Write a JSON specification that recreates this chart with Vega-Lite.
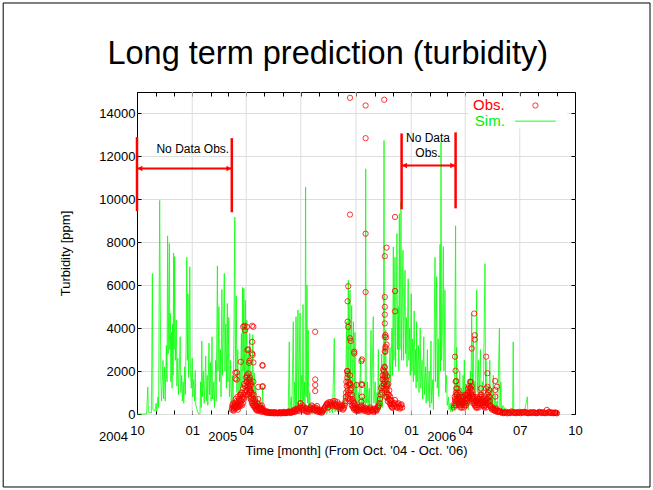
{
"$schema": "https://vega.github.io/schema/vega-lite/v6.json",
"width": 438, "height": 322,
"autosize": "none",
"padding": {"left": 137, "top": 92, "right": 78, "bottom": 76},
"background": "white",
"config": {"view": {"stroke": "black", "strokeWidth": 1}, "font": "Liberation Sans"},
"datasets": {
"one": [{"k": 1}],
"heading": [{"label": "Long term prediction (turbidity)"}],
"quarters": [{"day":92},{"day":182},{"day":273},{"day":365},{"day":457},{"day":547},{"day":638}],
"sim": [
{"day":0,"ppm":0},{"day":10,"ppm":0},{"day":16,"ppm":0},{"day":18,"ppm":1250},{"day":19,"ppm":80},{"day":24,"ppm":50},{"day":25.6,"ppm":6550},{"day":26.6,"ppm":200},{"day":30,"ppm":150},{"day":32,"ppm":500},{"day":33,"ppm":100},{"day":35,"ppm":800},{"day":36,"ppm":300},{"day":37.8,"ppm":9950},{"day":38.8,"ppm":5300},{"day":39.8,"ppm":1500},{"day":41,"ppm":600},{"day":43.3,"ppm":2500},{"day":44.3,"ppm":700},{"day":46,"ppm":2200},{"day":47,"ppm":600},{"day":49,"ppm":3200},{"day":50,"ppm":1500},{"day":51,"ppm":8300},{"day":52,"ppm":2800},{"day":53.9,"ppm":7950},{"day":54.7,"ppm":3000},{"day":55.5,"ppm":4700},{"day":56.5,"ppm":1500},{"day":57.5,"ppm":3800},{"day":58.5,"ppm":1200},{"day":59.5,"ppm":4200},{"day":60.2,"ppm":1800},{"day":61,"ppm":7500},{"day":61.8,"ppm":3000},{"day":62.8,"ppm":7330},{"day":63.8,"ppm":2500},{"day":65.5,"ppm":4370},{"day":66.5,"ppm":1300},{"day":68,"ppm":2600},{"day":69,"ppm":900},{"day":70.5,"ppm":2000},{"day":72,"ppm":3600},{"day":73,"ppm":1000},{"day":74.5,"ppm":1800},{"day":75.5,"ppm":600},{"day":77,"ppm":1500},{"day":78,"ppm":500},{"day":79.5,"ppm":2200},{"day":80.5,"ppm":900},{"day":82,"ppm":3500},{"day":83,"ppm":7300},{"day":84,"ppm":2500},{"day":85,"ppm":5600},{"day":86,"ppm":1700},{"day":87,"ppm":3000},{"day":88,"ppm":6860},{"day":89,"ppm":2000},{"day":90.5,"ppm":1200},{"day":92,"ppm":2600},{"day":93,"ppm":800},{"day":94.5,"ppm":1600},{"day":96,"ppm":600},{"day":97,"ppm":2030},{"day":98,"ppm":400},{"day":100,"ppm":200},{"day":101,"ppm":100},{"day":103,"ppm":0},{"day":105,"ppm":0},{"day":106,"ppm":1500},{"day":107,"ppm":300},{"day":108,"ppm":3400},{"day":109,"ppm":800},{"day":110.5,"ppm":2000},{"day":112,"ppm":500},{"day":114.5,"ppm":2700},{"day":115.5,"ppm":600},{"day":117,"ppm":1800},{"day":118,"ppm":400},{"day":120,"ppm":3300},{"day":121,"ppm":900},{"day":122.5,"ppm":2400},{"day":123.5,"ppm":600},{"day":125,"ppm":3600},{"day":126,"ppm":700},{"day":128,"ppm":1500},{"day":129,"ppm":300},{"day":131,"ppm":2500},{"day":132,"ppm":600},{"day":134,"ppm":6900},{"day":135,"ppm":2000},{"day":136.5,"ppm":5000},{"day":137.5,"ppm":1500},{"day":139,"ppm":3000},{"day":140,"ppm":800},{"day":141.5,"ppm":5800},{"day":142.5,"ppm":1800},{"day":144,"ppm":3800},{"day":145.5,"ppm":6550},{"day":146.5,"ppm":2000},{"day":148,"ppm":4200},{"day":149,"ppm":1200},{"day":150.5,"ppm":5150},{"day":151.5,"ppm":1500},{"day":153,"ppm":4500},{"day":154,"ppm":800},{"day":156,"ppm":2500},{"day":157,"ppm":500},{"day":159,"ppm":1800},{"day":160,"ppm":300},{"day":161.5,"ppm":3500},{"day":163,"ppm":9170},{"day":164,"ppm":2000},{"day":165.5,"ppm":5500},{"day":166.5,"ppm":1000},{"day":168,"ppm":3000},{"day":169,"ppm":400},{"day":171,"ppm":2000},{"day":172,"ppm":800},{"day":174,"ppm":3750},{"day":175,"ppm":1200},{"day":176,"ppm":5900},{"day":177,"ppm":2000},{"day":178,"ppm":5850},{"day":179,"ppm":1500},{"day":180.5,"ppm":5300},{"day":181.5,"ppm":1800},{"day":183,"ppm":4370},{"day":184,"ppm":1000},{"day":185.5,"ppm":3000},{"day":186.5,"ppm":600},{"day":188,"ppm":3750},{"day":189,"ppm":800},{"day":190.5,"ppm":2000},{"day":191.5,"ppm":400},{"day":193,"ppm":3700},{"day":194,"ppm":600},{"day":195.5,"ppm":1900},{"day":196.5,"ppm":300},{"day":198,"ppm":1200},{"day":199,"ppm":200},{"day":201,"ppm":800},{"day":202,"ppm":100},{"day":204,"ppm":600},{"day":205,"ppm":100},{"day":207,"ppm":400},{"day":208,"ppm":50},{"day":209.5,"ppm":1270},{"day":210.5,"ppm":50},{"day":213,"ppm":300},{"day":214,"ppm":20},{"day":217,"ppm":200},{"day":218,"ppm":10},{"day":222,"ppm":150},{"day":223,"ppm":0},{"day":228,"ppm":80},{"day":229,"ppm":0},{"day":235,"ppm":100},{"day":236,"ppm":0},{"day":242,"ppm":50},{"day":243,"ppm":0},{"day":250,"ppm":100},{"day":252,"ppm":0},{"day":253.8,"ppm":3360},{"day":254.8,"ppm":200},{"day":257,"ppm":800},{"day":258,"ppm":100},{"day":260.5,"ppm":4300},{"day":261.5,"ppm":300},{"day":263,"ppm":1500},{"day":264,"ppm":200},{"day":265,"ppm":4530},{"day":266,"ppm":400},{"day":268.3,"ppm":4840},{"day":269.3,"ppm":300},{"day":271.7,"ppm":4700},{"day":272.7,"ppm":500},{"day":274.5,"ppm":1800},{"day":275.5,"ppm":300},{"day":276.7,"ppm":5100},{"day":277.7,"ppm":600},{"day":279,"ppm":1500},{"day":280,"ppm":300},{"day":281,"ppm":10570},{"day":282,"ppm":800},{"day":283.3,"ppm":6000},{"day":284.3,"ppm":500},{"day":285.3,"ppm":3900},{"day":286.3,"ppm":300},{"day":288,"ppm":1000},{"day":289,"ppm":100},{"day":291,"ppm":400},{"day":292,"ppm":0},{"day":295,"ppm":200},{"day":296,"ppm":0},{"day":300,"ppm":150},{"day":301,"ppm":0},{"day":305,"ppm":100},{"day":306,"ppm":0},{"day":310,"ppm":200},{"day":311,"ppm":0},{"day":315,"ppm":150},{"day":316,"ppm":0},{"day":320,"ppm":300},{"day":321,"ppm":50},{"day":325,"ppm":200},{"day":326,"ppm":50},{"day":328.8,"ppm":3530},{"day":329.8,"ppm":100},{"day":333,"ppm":300},{"day":334,"ppm":100},{"day":338,"ppm":400},{"day":339,"ppm":100},{"day":342,"ppm":500},{"day":343,"ppm":200},{"day":345,"ppm":900},{"day":346,"ppm":300},{"day":347.5,"ppm":800},{"day":349.5,"ppm":4300},{"day":350.5,"ppm":600},{"day":352.2,"ppm":6230},{"day":353,"ppm":1500},{"day":355,"ppm":5770},{"day":356,"ppm":1200},{"day":357.8,"ppm":5050},{"day":358.8,"ppm":900},{"day":360.8,"ppm":4300},{"day":361.8,"ppm":600},{"day":363.3,"ppm":3800},{"day":364.3,"ppm":400},{"day":366,"ppm":1500},{"day":367,"ppm":200},{"day":369,"ppm":1000},{"day":370,"ppm":100},{"day":372.8,"ppm":2670},{"day":373.8,"ppm":200},{"day":376,"ppm":800},{"day":377,"ppm":100},{"day":379.5,"ppm":1500},{"day":380.3,"ppm":300},{"day":381.2,"ppm":11420},{"day":382.2,"ppm":500},{"day":384,"ppm":1500},{"day":385,"ppm":200},{"day":387,"ppm":1200},{"day":388,"ppm":100},{"day":390,"ppm":3900},{"day":391,"ppm":400},{"day":393.8,"ppm":4530},{"day":394.8,"ppm":500},{"day":397,"ppm":1500},{"day":398,"ppm":200},{"day":400,"ppm":1000},{"day":401,"ppm":100},{"day":402.2,"ppm":3000},{"day":403.2,"ppm":300},{"day":405,"ppm":1200},{"day":406,"ppm":200},{"day":407.8,"ppm":2800},{"day":408.8,"ppm":300},{"day":410.5,"ppm":1500},{"day":411.7,"ppm":12740},{"day":412.7,"ppm":800},{"day":414.5,"ppm":3900},{"day":415.5,"ppm":600},{"day":418,"ppm":2000},{"day":419,"ppm":800},{"day":421.7,"ppm":3100},{"day":422.7,"ppm":1500},{"day":425,"ppm":4000},{"day":426,"ppm":1800},{"day":427.2,"ppm":7780},{"day":428.2,"ppm":2500},{"day":430,"ppm":7300},{"day":431,"ppm":2200},{"day":433.3,"ppm":8410},{"day":434.3,"ppm":3000},{"day":435.5,"ppm":5000},{"day":436.3,"ppm":2000},{"day":437.2,"ppm":9330},{"day":438.2,"ppm":3000},{"day":440,"ppm":9880},{"day":441,"ppm":2500},{"day":443.3,"ppm":7630},{"day":444.3,"ppm":2500},{"day":446.7,"ppm":6700},{"day":447.7,"ppm":2800},{"day":449,"ppm":4500},{"day":450,"ppm":2200},{"day":452,"ppm":6300},{"day":453,"ppm":2500},{"day":454.5,"ppm":4000},{"day":455.5,"ppm":1800},{"day":457,"ppm":5600},{"day":458,"ppm":2000},{"day":459.5,"ppm":3500},{"day":460.5,"ppm":1500},{"day":462,"ppm":4800},{"day":463,"ppm":1800},{"day":464.5,"ppm":3000},{"day":465.2,"ppm":1200},{"day":466,"ppm":4300},{"day":467,"ppm":1500},{"day":469,"ppm":3200},{"day":470,"ppm":1000},{"day":472,"ppm":4000},{"day":473,"ppm":1200},{"day":475,"ppm":2500},{"day":476,"ppm":700},{"day":478,"ppm":3600},{"day":479,"ppm":900},{"day":481,"ppm":2200},{"day":482,"ppm":500},{"day":484,"ppm":3000},{"day":485,"ppm":600},{"day":487,"ppm":2000},{"day":488,"ppm":300},{"day":490,"ppm":3400},{"day":491,"ppm":500},{"day":493,"ppm":1600},{"day":494,"ppm":200},{"day":496.7,"ppm":7300},{"day":497.5,"ppm":1500},{"day":499.5,"ppm":6400},{"day":500.5,"ppm":1200},{"day":502,"ppm":3500},{"day":503,"ppm":800},{"day":505,"ppm":7900},{"day":505.8,"ppm":2000},{"day":506.7,"ppm":12660},{"day":507.7,"ppm":2500},{"day":509,"ppm":4000},{"day":510.5,"ppm":7800},{"day":511.5,"ppm":2000},{"day":513.3,"ppm":5770},{"day":514.3,"ppm":1000},{"day":516,"ppm":1800},{"day":517,"ppm":400},{"day":519,"ppm":800},{"day":520,"ppm":200},{"day":522,"ppm":500},{"day":523,"ppm":100},{"day":525,"ppm":400},{"day":526,"ppm":100},{"day":528,"ppm":600},{"day":529,"ppm":200},{"day":531,"ppm":8770},{"day":532,"ppm":500},{"day":532.8,"ppm":3100},{"day":533.8,"ppm":300},{"day":535,"ppm":1500},{"day":536,"ppm":300},{"day":538,"ppm":2000},{"day":539,"ppm":400},{"day":541,"ppm":1200},{"day":542,"ppm":300},{"day":543.5,"ppm":1800},{"day":544.5,"ppm":500},{"day":545.5,"ppm":2510},{"day":546.5,"ppm":400},{"day":548,"ppm":1400},{"day":549,"ppm":300},{"day":551,"ppm":1000},{"day":552,"ppm":200},{"day":553.5,"ppm":1600},{"day":554.5,"ppm":400},{"day":555.7,"ppm":2000},{"day":556.5,"ppm":600},{"day":557.8,"ppm":4700},{"day":558.8,"ppm":1200},{"day":560.5,"ppm":3600},{"day":561.5,"ppm":800},{"day":563,"ppm":1500},{"day":564,"ppm":600},{"day":566.2,"ppm":5770},{"day":567.2,"ppm":1000},{"day":569,"ppm":2500},{"day":570,"ppm":600},{"day":572.5,"ppm":3000},{"day":573.5,"ppm":700},{"day":576,"ppm":1500},{"day":577,"ppm":400},{"day":580,"ppm":7000},{"day":581,"ppm":800},{"day":581.7,"ppm":2500},{"day":582.7,"ppm":500},{"day":585.5,"ppm":1200},{"day":586.5,"ppm":300},{"day":588,"ppm":2500},{"day":589,"ppm":400},{"day":591,"ppm":1200},{"day":592,"ppm":200},{"day":594,"ppm":1800},{"day":595,"ppm":300},{"day":597,"ppm":900},{"day":598,"ppm":200},{"day":600,"ppm":600},{"day":601,"ppm":100},{"day":604,"ppm":3990},{"day":605,"ppm":300},{"day":606.5,"ppm":1500},{"day":607.5,"ppm":100},{"day":610,"ppm":400},{"day":611,"ppm":50},{"day":613,"ppm":300},{"day":614,"ppm":30},{"day":617,"ppm":200},{"day":618,"ppm":20},{"day":621,"ppm":150},{"day":622,"ppm":20},{"day":625,"ppm":100},{"day":626,"ppm":20},{"day":627,"ppm":3360},{"day":628,"ppm":50},{"day":632,"ppm":100},{"day":633,"ppm":10},{"day":638,"ppm":150},{"day":639,"ppm":10},{"day":644,"ppm":100},{"day":645,"ppm":10},{"day":650.5,"ppm":800},{"day":651.5,"ppm":30},{"day":657,"ppm":100},{"day":658,"ppm":0},{"day":663,"ppm":80},{"day":664,"ppm":0},{"day":670,"ppm":100},{"day":671,"ppm":0},{"day":677,"ppm":60},{"day":678,"ppm":0},{"day":685,"ppm":80},{"day":686,"ppm":0},{"day":692,"ppm":50},{"day":693,"ppm":0},{"day":700,"ppm":0}
],
"obs": [
{"day":158,"ppm":200},{"day":159,"ppm":420},{"day":160,"ppm":350},{"day":161,"ppm":150},{"day":162,"ppm":300},{"day":163,"ppm":500},{"day":164,"ppm":250},{"day":165,"ppm":400},{"day":166,"ppm":600},{"day":167,"ppm":300},{"day":168,"ppm":200},{"day":169,"ppm":450},{"day":170,"ppm":700},{"day":171,"ppm":350},{"day":172,"ppm":500},{"day":173,"ppm":900},{"day":174,"ppm":600},{"day":175,"ppm":400},{"day":176,"ppm":800},{"day":177,"ppm":1200},{"day":178,"ppm":700},{"day":179,"ppm":1000},{"day":180,"ppm":1300},{"day":181,"ppm":900},{"day":182,"ppm":1500},{"day":183,"ppm":1100},{"day":184,"ppm":1700},{"day":185,"ppm":1400},{"day":186,"ppm":1600},{"day":187,"ppm":1200},{"day":188,"ppm":1000},{"day":189,"ppm":1300},{"day":190,"ppm":800},{"day":191,"ppm":600},{"day":192,"ppm":900},{"day":193,"ppm":500},{"day":194,"ppm":700},{"day":195,"ppm":400},{"day":196,"ppm":300},{"day":197,"ppm":600},{"day":198,"ppm":250},{"day":199,"ppm":400},{"day":200,"ppm":200},{"day":201,"ppm":300},{"day":202,"ppm":700},{"day":203,"ppm":150},{"day":204,"ppm":250},{"day":205,"ppm":300},{"day":206,"ppm":150},{"day":207,"ppm":200},{"day":208,"ppm":400},{"day":210,"ppm":250},
{"day":158.5,"ppm":300},{"day":159.5,"ppm":250},{"day":160.5,"ppm":500},{"day":161.5,"ppm":200},{"day":162.5,"ppm":400},{"day":163.5,"ppm":350},{"day":164.5,"ppm":700},{"day":165.5,"ppm":300},{"day":166.5,"ppm":500},{"day":167.5,"ppm":800},{"day":168.5,"ppm":350},{"day":169.5,"ppm":600},{"day":170.5,"ppm":400},{"day":171.5,"ppm":900},{"day":172.5,"ppm":650},{"day":173.5,"ppm":450},{"day":174.5,"ppm":1000},{"day":175.5,"ppm":700},{"day":176.5,"ppm":500},{"day":177.5,"ppm":900},{"day":178.5,"ppm":1400},{"day":179.5,"ppm":800},{"day":180.5,"ppm":1100},{"day":181.5,"ppm":1700},{"day":182.5,"ppm":1250},{"day":183.5,"ppm":1500},{"day":184.5,"ppm":900},{"day":185.5,"ppm":1300},{"day":186.5,"ppm":1000},{"day":187.5,"ppm":1600},{"day":188.5,"ppm":1100},{"day":189.5,"ppm":700},{"day":190.5,"ppm":1000},{"day":191.5,"ppm":500},{"day":192.5,"ppm":700},{"day":193.5,"ppm":400},{"day":194.5,"ppm":900},{"day":195.5,"ppm":550},{"day":196.5,"ppm":350},{"day":197.5,"ppm":450},{"day":198.5,"ppm":200},{"day":199.5,"ppm":350},{"day":200.5,"ppm":150},{"day":201.5,"ppm":500},{"day":202.5,"ppm":300},{"day":203.5,"ppm":200},{"day":204.5,"ppm":400},{"day":205.5,"ppm":200},{"day":206.5,"ppm":300},{"day":207.5,"ppm":100},{"day":208.5,"ppm":250},{"day":209.5,"ppm":150},
{"day":164,"ppm":1920},{"day":164,"ppm":1650},{"day":166,"ppm":1600},{"day":166.5,"ppm":1940},{"day":173,"ppm":2430},{"day":177,"ppm":4060},{"day":179,"ppm":4110},{"day":180,"ppm":3900},{"day":183,"ppm":1800},{"day":183,"ppm":4060},{"day":184,"ppm":2980},{"day":185.5,"ppm":3010},{"day":185.5,"ppm":1880},{"day":187,"ppm":2380},{"day":187.5,"ppm":2480},{"day":188,"ppm":1700},{"day":188.5,"ppm":1500},{"day":189,"ppm":1100},{"day":190,"ppm":1400},{"day":192,"ppm":4110},{"day":192,"ppm":3360},{"day":192,"ppm":2820},{"day":192.5,"ppm":2750},{"day":194,"ppm":4060},{"day":194,"ppm":2400},{"day":194,"ppm":1500},{"day":202,"ppm":1260},{"day":209,"ppm":2280},{"day":209.5,"ppm":2250},{"day":209,"ppm":1260},{"day":209.5,"ppm":1300},
{"day":211,"ppm":150},{"day":213,"ppm":100},{"day":215,"ppm":80},{"day":217,"ppm":120},{"day":219,"ppm":60},{"day":221,"ppm":50},{"day":223,"ppm":90},{"day":225,"ppm":40},{"day":227,"ppm":60},{"day":229,"ppm":30},{"day":231,"ppm":80},{"day":233,"ppm":50},{"day":235,"ppm":40},{"day":237,"ppm":70},{"day":239,"ppm":30},{"day":241,"ppm":60},{"day":243,"ppm":40},{"day":245,"ppm":100},{"day":247,"ppm":60},{"day":249,"ppm":50},{"day":251,"ppm":80},{"day":253,"ppm":120},{"day":255,"ppm":60},{"day":257,"ppm":100},{"day":259,"ppm":80},{"day":261,"ppm":150},{"day":263,"ppm":100},{"day":265,"ppm":200},{"day":267,"ppm":150},{"day":269,"ppm":250},{"day":271,"ppm":300},{"day":273,"ppm":500},{"day":275,"ppm":200},{"day":277,"ppm":300},{"day":279,"ppm":150},{"day":281,"ppm":250},{"day":283,"ppm":100},{"day":285,"ppm":200},{"day":287,"ppm":150},{"day":289,"ppm":300},{"day":291,"ppm":400},{"day":293,"ppm":200},{"day":295,"ppm":300},{"day":297,"ppm":150},{"day":299,"ppm":250},{"day":301,"ppm":100},{"day":303,"ppm":200},{"day":305,"ppm":80},{"day":307,"ppm":150},{"day":309,"ppm":100},{"day":311,"ppm":200},{"day":313,"ppm":300},{"day":315,"ppm":400},{"day":317,"ppm":500},{"day":319,"ppm":300},{"day":321,"ppm":450},{"day":323,"ppm":550},{"day":325,"ppm":400},{"day":327,"ppm":600},{"day":329,"ppm":500},{"day":331,"ppm":350},{"day":333,"ppm":450},{"day":335,"ppm":300},{"day":337,"ppm":400},{"day":339,"ppm":250},{"day":341,"ppm":350},{"day":343,"ppm":200},{"day":345,"ppm":300},{"day":347,"ppm":500},
{"day":212,"ppm":90},{"day":214,"ppm":130},{"day":216,"ppm":50},{"day":218,"ppm":100},{"day":220,"ppm":80},{"day":222,"ppm":40},{"day":224,"ppm":70},{"day":226,"ppm":50},{"day":228,"ppm":90},{"day":230,"ppm":40},{"day":232,"ppm":60},{"day":234,"ppm":30},{"day":236,"ppm":50},{"day":238,"ppm":90},{"day":240,"ppm":40},{"day":242,"ppm":70},{"day":244,"ppm":50},{"day":246,"ppm":80},{"day":248,"ppm":40},{"day":250,"ppm":60},{"day":252,"ppm":100},{"day":254,"ppm":80},{"day":256,"ppm":50},{"day":258,"ppm":120},{"day":260,"ppm":90},{"day":262,"ppm":200},{"day":264,"ppm":130},{"day":266,"ppm":250},{"day":268,"ppm":200},{"day":270,"ppm":150},{"day":272,"ppm":350},{"day":274,"ppm":250},{"day":276,"ppm":400},{"day":278,"ppm":200},{"day":280,"ppm":300},{"day":282,"ppm":150},{"day":284,"ppm":250},{"day":286,"ppm":100},{"day":288,"ppm":200},{"day":290,"ppm":250},{"day":292,"ppm":350},{"day":294,"ppm":250},{"day":296,"ppm":200},{"day":298,"ppm":300},{"day":300,"ppm":180},{"day":302,"ppm":150},{"day":304,"ppm":120},{"day":306,"ppm":200},{"day":308,"ppm":60},{"day":310,"ppm":150},{"day":312,"ppm":250},{"day":314,"ppm":350},{"day":316,"ppm":450},{"day":318,"ppm":300},{"day":320,"ppm":550},{"day":322,"ppm":400},{"day":324,"ppm":500},{"day":326,"ppm":350},{"day":328,"ppm":450},{"day":330,"ppm":600},{"day":332,"ppm":400},{"day":334,"ppm":550},{"day":336,"ppm":350},{"day":338,"ppm":450},{"day":340,"ppm":300},{"day":342,"ppm":400},{"day":344,"ppm":250},{"day":346,"ppm":400},
{"day":297,"ppm":3830},{"day":297,"ppm":1610},{"day":297,"ppm":1350},{"day":297,"ppm":1070},{"day":272,"ppm":500},{"day":300,"ppm":370},{"day":318,"ppm":460},
{"day":348,"ppm":800},{"day":349,"ppm":1500},{"day":350,"ppm":2000},{"day":351,"ppm":1100},{"day":352,"ppm":720},{"day":353,"ppm":1350},{"day":354,"ppm":600},{"day":355,"ppm":1800},{"day":356,"ppm":900},{"day":357,"ppm":1200},{"day":358,"ppm":400},{"day":359,"ppm":700},{"day":360,"ppm":300},{"day":361,"ppm":500},{"day":362,"ppm":200},{"day":363,"ppm":400},{"day":365,"ppm":250},
{"day":347.5,"ppm":600},{"day":348.5,"ppm":1000},{"day":349.5,"ppm":1300},{"day":350.5,"ppm":1700},{"day":351.5,"ppm":900},{"day":352.5,"ppm":1500},{"day":353.5,"ppm":1000},{"day":354.5,"ppm":1400},{"day":355.5,"ppm":700},{"day":356.5,"ppm":1100},{"day":357.5,"ppm":600},{"day":358.5,"ppm":900},{"day":359.5,"ppm":400},{"day":360.5,"ppm":600},{"day":361.5,"ppm":300},{"day":362.5,"ppm":500},{"day":363.5,"ppm":250},{"day":364,"ppm":300},{"day":365.5,"ppm":150},
{"day":351,"ppm":5250},{"day":351,"ppm":4300},{"day":351,"ppm":1860},{"day":351,"ppm":2000},{"day":352,"ppm":5950},{"day":352,"ppm":4060},{"day":355,"ppm":14730},{"day":355,"ppm":9290},{"day":355,"ppm":3530},{"day":355,"ppm":1430},{"day":356,"ppm":1350},{"day":356,"ppm":3400},{"day":362,"ppm":2900},{"day":362,"ppm":2820},{"day":366,"ppm":1350},{"day":375,"ppm":2540},{"day":375,"ppm":1350},{"day":375,"ppm":810},{"day":374,"ppm":2460},{"day":374,"ppm":1400},{"day":374,"ppm":570},{"day":381,"ppm":14370},{"day":381,"ppm":12850},{"day":381,"ppm":8400},{"day":381,"ppm":5680},
{"day":366,"ppm":200},{"day":368,"ppm":150},{"day":370,"ppm":300},{"day":372,"ppm":200},{"day":374,"ppm":400},{"day":376,"ppm":250},{"day":378,"ppm":150},{"day":380,"ppm":300},{"day":382,"ppm":200},{"day":384,"ppm":100},{"day":386,"ppm":150},{"day":388,"ppm":250},{"day":390,"ppm":150},{"day":392,"ppm":200},{"day":394,"ppm":100},{"day":396,"ppm":150},{"day":398,"ppm":250},{"day":400,"ppm":200},{"day":402,"ppm":350},{"day":404,"ppm":500},
{"day":367,"ppm":250},{"day":369,"ppm":200},{"day":371,"ppm":150},{"day":373,"ppm":350},{"day":375,"ppm":300},{"day":377,"ppm":200},{"day":379,"ppm":250},{"day":381,"ppm":150},{"day":383,"ppm":250},{"day":385,"ppm":200},{"day":387,"ppm":100},{"day":389,"ppm":300},{"day":391,"ppm":200},{"day":393,"ppm":150},{"day":395,"ppm":250},{"day":397,"ppm":200},{"day":399,"ppm":150},{"day":401,"ppm":300},{"day":403,"ppm":400},{"day":405,"ppm":700},{"day":406,"ppm":900},{"day":407,"ppm":1200},
{"day":408,"ppm":1000},{"day":409,"ppm":1610},{"day":410,"ppm":2070},{"day":411,"ppm":1200},{"day":412,"ppm":2000},{"day":413,"ppm":1500},{"day":414,"ppm":1880},{"day":415,"ppm":800},{"day":416,"ppm":1150},{"day":417,"ppm":1750},{"day":418,"ppm":600},{"day":419,"ppm":1400},{"day":420,"ppm":900},{"day":421,"ppm":500},{"day":422,"ppm":810},{"day":423,"ppm":400},{"day":424,"ppm":650},{"day":425,"ppm":300},
{"day":408.5,"ppm":1300},{"day":409.5,"ppm":1800},{"day":410.5,"ppm":1600},{"day":411.5,"ppm":1400},{"day":412.5,"ppm":2200},{"day":413.5,"ppm":1800},{"day":414.5,"ppm":1300},{"day":415.5,"ppm":1600},{"day":416.5,"ppm":1000},{"day":417.5,"ppm":1300},{"day":418.5,"ppm":900},{"day":419.5,"ppm":700},{"day":420.5,"ppm":1100},{"day":421.5,"ppm":650},{"day":422.5,"ppm":500},{"day":423.5,"ppm":600},{"day":424.5,"ppm":350},{"day":425.5,"ppm":450},
{"day":412,"ppm":14640},{"day":413,"ppm":7350},{"day":413,"ppm":5450},{"day":413,"ppm":4990},{"day":413,"ppm":4630},{"day":413,"ppm":4220},{"day":413,"ppm":3600},{"day":413,"ppm":2920},{"day":413,"ppm":2170},{"day":413,"ppm":1710},{"day":413,"ppm":1110},{"day":415,"ppm":3570},{"day":416,"ppm":7750},{"day":416,"ppm":3230},{"day":414,"ppm":3680},{"day":414,"ppm":3130},{"day":414.5,"ppm":3050},{"day":414,"ppm":2900},{"day":417,"ppm":800},{"day":417,"ppm":1400},{"day":430,"ppm":9180},{"day":430,"ppm":5730},{"day":430,"ppm":4780},
{"day":426,"ppm":300},{"day":428,"ppm":500},{"day":430,"ppm":650},{"day":432,"ppm":400},{"day":434,"ppm":300},{"day":436,"ppm":500},{"day":438,"ppm":250},{"day":440,"ppm":400},{"day":442,"ppm":300},
{"day":427,"ppm":450},{"day":429,"ppm":350},{"day":431,"ppm":500},{"day":433,"ppm":300},{"day":435,"ppm":450},{"day":437,"ppm":350},{"day":439,"ppm":300},{"day":441,"ppm":450},
{"day":528,"ppm":300},{"day":529,"ppm":500},{"day":530,"ppm":700},{"day":531,"ppm":400},{"day":532,"ppm":900},{"day":533,"ppm":600},{"day":534,"ppm":1190},{"day":535,"ppm":500},{"day":536,"ppm":800},{"day":537,"ppm":400},{"day":538,"ppm":700},{"day":539,"ppm":300},{"day":540,"ppm":600},{"day":541,"ppm":500},{"day":542,"ppm":420},{"day":543,"ppm":800},{"day":544,"ppm":600},{"day":545,"ppm":300},{"day":546,"ppm":500},{"day":547,"ppm":700},{"day":548,"ppm":400},{"day":549,"ppm":900},{"day":550,"ppm":600},{"day":551,"ppm":730},{"day":552,"ppm":1190},{"day":553,"ppm":800},{"day":554,"ppm":1000},{"day":555,"ppm":1500},{"day":556,"ppm":1200},{"day":557,"ppm":900},{"day":558,"ppm":1100},{"day":559,"ppm":700},{"day":560,"ppm":600},{"day":561,"ppm":800},{"day":562,"ppm":500},{"day":563,"ppm":400},{"day":564,"ppm":600},{"day":565,"ppm":300},{"day":566,"ppm":500},{"day":567,"ppm":400},{"day":568,"ppm":700},{"day":569,"ppm":300},{"day":570,"ppm":500},{"day":571,"ppm":800},{"day":572,"ppm":600},{"day":573,"ppm":1190},{"day":574,"ppm":900},{"day":575,"ppm":570},{"day":576,"ppm":700},{"day":577,"ppm":400},{"day":578,"ppm":500},{"day":579,"ppm":300},{"day":580,"ppm":600},{"day":581,"ppm":400},{"day":582,"ppm":300},{"day":583,"ppm":700},{"day":584,"ppm":1270},{"day":585,"ppm":500},{"day":586,"ppm":810},{"day":587,"ppm":1120},{"day":588,"ppm":600},{"day":589,"ppm":400},{"day":590,"ppm":300},{"day":592,"ppm":200},{"day":594,"ppm":250},{"day":596,"ppm":150},{"day":598,"ppm":200},{"day":600,"ppm":100},{"day":602,"ppm":150},{"day":604,"ppm":100},{"day":606,"ppm":80},
{"day":528.5,"ppm":400},{"day":529.5,"ppm":800},{"day":530.5,"ppm":600},{"day":531.5,"ppm":1000},{"day":532.5,"ppm":700},{"day":533.5,"ppm":900},{"day":534.5,"ppm":700},{"day":535.5,"ppm":1000},{"day":536.5,"ppm":600},{"day":537.5,"ppm":500},{"day":538.5,"ppm":900},{"day":539.5,"ppm":400},{"day":540.5,"ppm":800},{"day":541.5,"ppm":300},{"day":542.5,"ppm":600},{"day":543.5,"ppm":500},{"day":544.5,"ppm":800},{"day":545.5,"ppm":400},{"day":546.5,"ppm":900},{"day":547.5,"ppm":600},{"day":548.5,"ppm":700},{"day":549.5,"ppm":500},{"day":550.5,"ppm":900},{"day":551.5,"ppm":1000},{"day":552.5,"ppm":900},{"day":553.5,"ppm":1300},{"day":554.5,"ppm":1200},{"day":555.5,"ppm":1000},{"day":556.5,"ppm":1500},{"day":557.5,"ppm":1300},{"day":558.5,"ppm":800},{"day":559.5,"ppm":900},{"day":560.5,"ppm":500},{"day":561.5,"ppm":700},{"day":562.5,"ppm":600},{"day":563.5,"ppm":800},{"day":564.5,"ppm":400},{"day":565.5,"ppm":600},{"day":566.5,"ppm":300},{"day":567.5,"ppm":600},{"day":568.5,"ppm":500},{"day":569.5,"ppm":400},{"day":570.5,"ppm":700},{"day":571.5,"ppm":500},{"day":572.5,"ppm":900},{"day":573.5,"ppm":700},{"day":574.5,"ppm":800},{"day":575.5,"ppm":500},{"day":576.5,"ppm":400},{"day":577.5,"ppm":600},{"day":578.5,"ppm":350},{"day":579.5,"ppm":500},{"day":580.5,"ppm":400},{"day":581.5,"ppm":600},{"day":582.5,"ppm":500},{"day":583.5,"ppm":900},{"day":584.5,"ppm":700},{"day":585.5,"ppm":1000},{"day":586.5,"ppm":600},{"day":587.5,"ppm":800},{"day":588.5,"ppm":400},{"day":589.5,"ppm":350},{"day":591,"ppm":250},{"day":593,"ppm":300},{"day":595,"ppm":200},{"day":597,"ppm":150},{"day":599,"ppm":250},{"day":601,"ppm":120},{"day":603,"ppm":100},{"day":605,"ppm":150},
{"day":530,"ppm":2670},{"day":531,"ppm":2020},{"day":531,"ppm":1510},{"day":532,"ppm":1540},{"day":532,"ppm":1190},{"day":556,"ppm":1190},{"day":558,"ppm":3050},{"day":558,"ppm":730},{"day":562,"ppm":4680},{"day":563,"ppm":3670},{"day":563,"ppm":3470},{"day":582,"ppm":2670},{"day":582,"ppm":1190},{"day":584,"ppm":1900},{"day":597,"ppm":1540},{"day":597,"ppm":1120},{"day":597,"ppm":810},{"day":600,"ppm":1270},
{"day":608,"ppm":60},{"day":611,"ppm":40},{"day":614,"ppm":80},{"day":617,"ppm":30},{"day":620,"ppm":60},{"day":623,"ppm":100},{"day":626,"ppm":50},{"day":629,"ppm":80},{"day":632,"ppm":40},{"day":635,"ppm":60},{"day":638,"ppm":100},{"day":641,"ppm":70},{"day":644,"ppm":50},{"day":647,"ppm":90},{"day":650,"ppm":60},{"day":653,"ppm":40},{"day":656,"ppm":80},{"day":659,"ppm":50},{"day":662,"ppm":70},{"day":665,"ppm":40},{"day":668,"ppm":60},{"day":671,"ppm":100},{"day":674,"ppm":50},{"day":677,"ppm":80},{"day":680,"ppm":40},{"day":683,"ppm":190},{"day":686,"ppm":60},{"day":689,"ppm":50},{"day":692,"ppm":70},{"day":695,"ppm":40},{"day":698,"ppm":60},{"day":700,"ppm":30},
{"day":609.5,"ppm":80},{"day":612.5,"ppm":50},{"day":615.5,"ppm":100},{"day":618.5,"ppm":60},{"day":621.5,"ppm":40},{"day":624.5,"ppm":120},{"day":627.5,"ppm":70},{"day":630.5,"ppm":50},{"day":633.5,"ppm":90},{"day":636.5,"ppm":60},{"day":639.5,"ppm":40},{"day":642.5,"ppm":80},{"day":645.5,"ppm":100},{"day":648.5,"ppm":60},{"day":651.5,"ppm":40},{"day":654.5,"ppm":70},{"day":657.5,"ppm":50},{"day":660.5,"ppm":90},{"day":663.5,"ppm":60},{"day":666.5,"ppm":40},{"day":669.5,"ppm":70},{"day":672.5,"ppm":80},{"day":675.5,"ppm":50},{"day":678.5,"ppm":60},{"day":681.5,"ppm":40},{"day":684.5,"ppm":70},{"day":687.5,"ppm":100},{"day":690.5,"ppm":50},{"day":693.5,"ppm":40},{"day":696.5,"ppm":70},{"day":699,"ppm":50}
],
"bars": [{"day":0,"lo":9450,"hi":12900},{"day":158,"lo":9400,"hi":12850},{"day":441,"lo":9540,"hi":13070},{"day":531,"lo":9580,"hi":13120}],
"arrows": [{"from":0,"to":158,"ppm":11440},{"from":441,"to":531,"ppm":11580}],
"heads": [{"day":5,"ppm":11440,"dir":"left"},{"day":153,"ppm":11440,"dir":"right"},{"day":446,"ppm":11580,"dir":"left"},{"day":526,"ppm":11580,"dir":"right"}],
"notes": [{"day":93,"ppm":12330,"label":"No Data Obs."},{"day":485,"ppm":12880,"label":"No Data"},{"day":485,"ppm":12180,"label":"Obs."}],
"years": [{"day":0,"label":"2004"},{"day":182,"label":"2005"},{"day":547,"label":"2006"}]
},
"layer": [
{"data": {"name": "one"},
 "mark": {"type": "rect", "filled": false, "color": "black", "strokeWidth": 1},
 "encoding": {
  "x": {"datum": -223, "type": "quantitative", "scale": {"domain": [0, 730], "nice": false, "zero": false}, "axis": null},
  "x2": {"datum": 855},
  "y": {"datum": 19146, "type": "quantitative", "scale": {"domain": [0, 15000], "nice": false}, "axis": null},
  "y2": {"datum": -3400}}},
{"data": {"name": "heading"},
 "mark": {"type": "text", "fontSize": 32.5, "font": "Liberation Sans", "color": "black", "align": "center", "baseline": "alphabetic"},
 "encoding": {
  "x": {"datum": 318, "type": "quantitative", "scale": {"domain": [0, 730], "nice": false, "zero": false}, "axis": null},
  "y": {"datum": 16303, "type": "quantitative", "scale": {"domain": [0, 15000], "nice": false}, "axis": null},
  "text": {"field": "label"}}},
{"data": {"name": "quarters"},
 "mark": {"type": "rule", "color": "#dddddd", "strokeWidth": 1},
 "encoding": {"x": {"field": "day", "type": "quantitative", "scale": {"domain": [0, 730], "nice": false, "zero": false}, "axis": null}}},
{"data": {"name": "sim"},
 "mark": {"type": "line", "color": "#00ff00", "strokeWidth": 0.9, "opacity": 0.85},
 "encoding": {
  "x": {"field": "day", "type": "quantitative", "scale": {"domain": [0, 730], "nice": false, "zero": false},
   "axis": {"orient": "bottom", "values": [0,31,61,92,123,151,182,212,243,273,304,335,365,396,426,457,488,516,547,577,608,638,669,700,730],
    "labelExpr": "indexof([0,365,730],datum.value)>=0?'10':indexof([92,457],datum.value)>=0?'01':indexof([182,547],datum.value)>=0?'04':indexof([273,638],datum.value)>=0?'07':''",
    "labelOverlap": false, "labelBound": false, "labelFlush": false, "tickSize": -4, "tickColor": "black", "labelPadding": 14, "labelFontSize": 13, "labelColor": "black", "labelFont": "Liberation Sans",
    "domain": false, "grid": false, "title": "Time [month] (From Oct. '04 - Oct. '06)", "titleFontSize": 13, "titleFontWeight": "normal", "titleColor": "black", "titleFont": "Liberation Sans", "titlePadding": 7}},
  "y": {"field": "ppm", "type": "quantitative", "scale": {"domain": [0, 15000], "nice": false},
   "axis": {"orient": "left", "values": [0,2000,4000,6000,8000,10000,12000,14000], "format": "d", "tickSize": -4, "tickColor": "black", "labelPadding": 6, "labelFontSize": 13, "labelColor": "black", "labelFont": "Liberation Sans",
    "domain": false, "grid": true, "gridColor": "#dddddd", "title": "Turbidity [ppm]", "titleFontSize": 13, "titleFontWeight": "normal", "titleColor": "black", "titleFont": "Liberation Sans", "titlePadding": 26}}}},
{"data": {"name": "obs"},
 "mark": {"type": "point", "shape": "circle", "filled": false, "size": 28, "strokeWidth": 1, "color": "#ff0000", "opacity": 0.8},
 "encoding": {
  "x": {"field": "day", "type": "quantitative", "scale": {"domain": [0, 730], "nice": false, "zero": false},
   "axis": {"orient": "top", "values": [0,31,61,92,123,151,182,212,243,273,304,335,365,396,426,457,488,516,547,577,608,638,669,700,730], "labels": false, "tickSize": -4, "tickColor": "black", "domain": false, "grid": false, "title": null}},
  "y": {"field": "ppm", "type": "quantitative", "scale": {"domain": [0, 15000], "nice": false},
   "axis": {"orient": "right", "values": [0,2000,4000,6000,8000,10000,12000,14000], "labels": false, "tickSize": -4, "tickColor": "black", "domain": false, "grid": false, "title": null}}}},
{"data": {"name": "bars"},
 "mark": {"type": "rule", "color": "#ff0000", "strokeWidth": 2.5},
 "encoding": {
  "x": {"field": "day", "type": "quantitative", "scale": {"domain": [0, 730], "nice": false, "zero": false}, "axis": null},
  "y": {"field": "lo", "type": "quantitative", "scale": {"domain": [0, 15000], "nice": false}, "axis": null},
  "y2": {"field": "hi"}}},
{"data": {"name": "arrows"},
 "mark": {"type": "rule", "color": "#ff0000", "strokeWidth": 2},
 "encoding": {
  "x": {"field": "from", "type": "quantitative", "scale": {"domain": [0, 730], "nice": false, "zero": false}, "axis": null},
  "x2": {"field": "to"},
  "y": {"field": "ppm", "type": "quantitative", "scale": {"domain": [0, 15000], "nice": false}, "axis": null}}},
{"data": {"name": "heads"},
 "mark": {"type": "point", "filled": true, "color": "#ff0000", "size": 30, "opacity": 1},
 "encoding": {
  "x": {"field": "day", "type": "quantitative", "scale": {"domain": [0, 730], "nice": false, "zero": false}, "axis": null},
  "y": {"field": "ppm", "type": "quantitative", "scale": {"domain": [0, 15000], "nice": false}, "axis": null},
  "shape": {"field": "dir", "type": "nominal", "scale": {"domain": ["left", "right"], "range": ["triangle-left", "triangle-right"]}, "legend": null}}},
{"data": {"name": "notes"},
 "mark": {"type": "text", "fontSize": 12, "font": "Liberation Sans", "color": "black", "align": "center", "baseline": "middle"},
 "encoding": {
  "x": {"field": "day", "type": "quantitative", "scale": {"domain": [0, 730], "nice": false, "zero": false}, "axis": null},
  "y": {"field": "ppm", "type": "quantitative", "scale": {"domain": [0, 15000], "nice": false}, "axis": null},
  "text": {"field": "label"}}},
{"data": {"name": "years"},
 "mark": {"type": "text", "fontSize": 13, "font": "Liberation Sans", "color": "black", "align": "right", "baseline": "middle", "dx": -9},
 "encoding": {
  "x": {"field": "day", "type": "quantitative", "scale": {"domain": [0, 730], "nice": false, "zero": false}, "axis": null},
  "y": {"datum": -1070, "type": "quantitative", "scale": {"domain": [0, 15000], "nice": false}, "axis": null},
  "text": {"field": "label"}}},
{"data": {"name": "one"},
 "mark": {"type": "rect", "color": "white", "opacity": 1},
 "encoding": {
  "x": {"datum": 552, "type": "quantitative", "scale": {"domain": [0, 730], "nice": false, "zero": false}, "axis": null},
  "x2": {"datum": 717},
  "y": {"datum": 13300, "type": "quantitative", "scale": {"domain": [0, 15000], "nice": false}, "axis": null},
  "y2": {"datum": 14790}}},
{"data": {"name": "one"},
 "mark": {"type": "text", "fontSize": 15, "font": "Liberation Sans", "color": "#ff0000", "align": "right", "baseline": "middle", "text": "Obs."},
 "encoding": {
  "x": {"datum": 613, "type": "quantitative", "scale": {"domain": [0, 730], "nice": false, "zero": false}, "axis": null},
  "y": {"datum": 14372, "type": "quantitative", "scale": {"domain": [0, 15000], "nice": false}, "axis": null}}},
{"data": {"name": "one"},
 "mark": {"type": "text", "fontSize": 15, "font": "Liberation Sans", "color": "#00ee00", "align": "right", "baseline": "middle", "text": "Sim."},
 "encoding": {
  "x": {"datum": 613, "type": "quantitative", "scale": {"domain": [0, 730], "nice": false, "zero": false}, "axis": null},
  "y": {"datum": 13642, "type": "quantitative", "scale": {"domain": [0, 15000], "nice": false}, "axis": null}}},
{"data": {"name": "one"},
 "mark": {"type": "point", "shape": "circle", "filled": false, "size": 28, "strokeWidth": 1, "color": "#ff0000", "opacity": 0.8},
 "encoding": {
  "x": {"datum": 664, "type": "quantitative", "scale": {"domain": [0, 730], "nice": false, "zero": false}, "axis": null},
  "y": {"datum": 14372, "type": "quantitative", "scale": {"domain": [0, 15000], "nice": false}, "axis": null}}},
{"data": {"name": "one"},
 "mark": {"type": "rule", "color": "#00ff00", "strokeWidth": 0.9},
 "encoding": {
  "x": {"datum": 630, "type": "quantitative", "scale": {"domain": [0, 730], "nice": false, "zero": false}, "axis": null},
  "x2": {"datum": 698},
  "y": {"datum": 13642, "type": "quantitative", "scale": {"domain": [0, 15000], "nice": false}, "axis": null}}}
],
"resolve": {"axis": {"x": "independent", "y": "independent"}}
}
